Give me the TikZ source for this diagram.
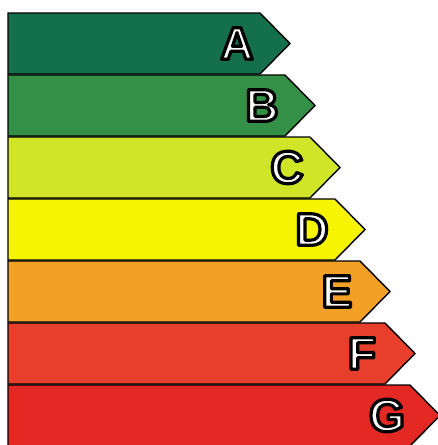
\documentclass[tikz,border=0pt]{standalone}
\usepackage{fontspec}
\setmainfont{Liberation Sans}
\definecolor{cA}{RGB}{20,112,76}
\definecolor{cB}{RGB}{52,144,70}
\definecolor{cC}{RGB}{208,228,40}
\definecolor{cD}{RGB}{246,244,0}
\definecolor{cE}{RGB}{243,160,38}
\definecolor{cF}{RGB}{232,62,44}
\definecolor{cG}{RGB}{228,40,36}
\newcommand{\outlined}[1]{\special{pdf:literal direct 1 1 1 rg 0 0 0 RG 3.2 w 1 j 2 Tr}#1\special{pdf:literal direct 0 Tr}}
\tikzset{
  bar/.style={draw=black, line width=1.4pt, line join=miter},
  grade/.style={inner sep=0pt, font=\fontsize{46}{46}\selectfont\bfseries, text=white}
}
\begin{document}
\begin{tikzpicture}[x=1pt,y=-1pt]
\useasboundingbox (0,0) rectangle (438,445);
\fill[white] (0,0) rectangle (438,445);
\foreach \i/\L/\c in {0/A/cA,1/B/cB,2/C/cC,3/D/cD,4/E/cE,5/F/cF,6/G/cG}{
  \pgfmathsetmacro{\top}{13+62*\i}
  \pgfmathsetmacro{\bot}{\top+61}
  \pgfmathsetmacro{\mid}{\top+30.5}
  \pgfmathsetmacro{\body}{260+25*\i}
  \pgfmathsetmacro{\tip}{\body+30}
  \draw[bar, fill=\c] (8,\top) -- (\body,\top) -- (\tip,\mid) -- (\body,\bot) -- (8,\bot) -- cycle;
  \node[grade] (L\L) at (\body-23,\mid) {\outlined{\L}};
}
\end{tikzpicture}
\end{document}
